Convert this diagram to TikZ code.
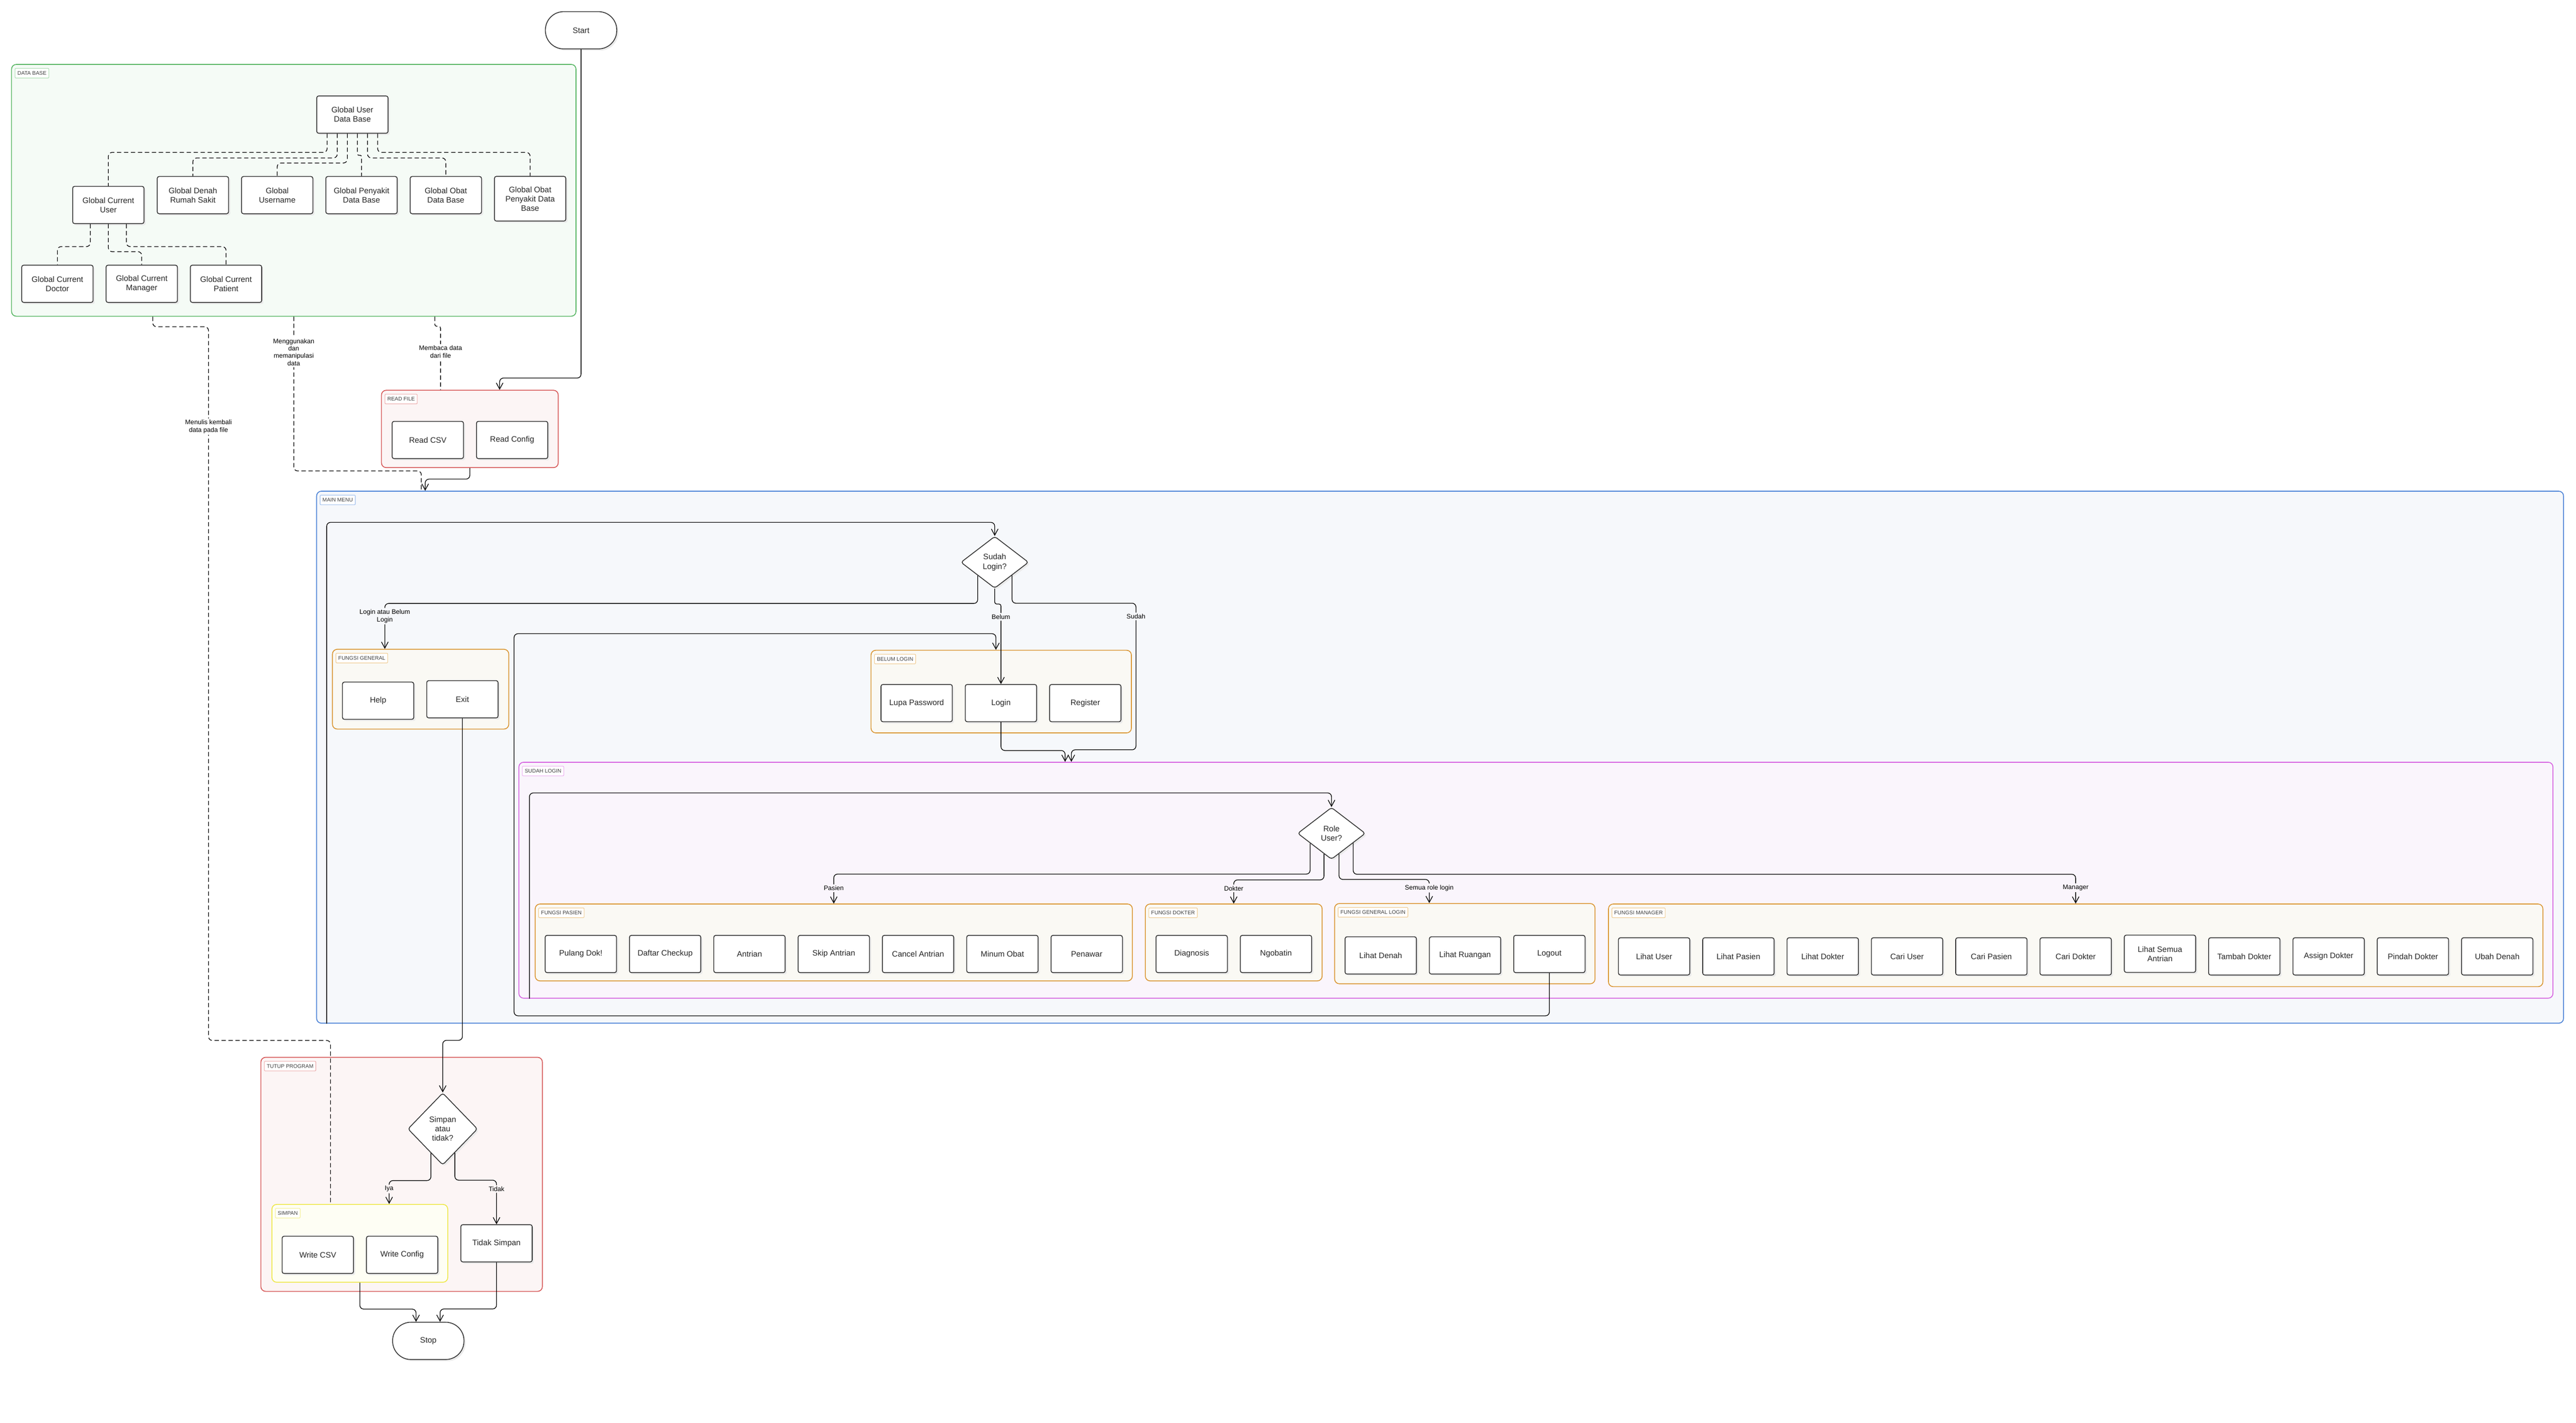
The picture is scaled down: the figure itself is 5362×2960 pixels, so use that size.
\documentclass[tikz,border=0pt]{standalone}
\usepackage{fontspec}
\setmainfont{Liberation Sans}
\usetikzlibrary{shapes.geometric, arrows.meta, shadows}

\definecolor{dbLine}{RGB}{88,182,100}
\definecolor{dbFill}{RGB}{245,251,246}
\definecolor{dbTag}{RGB}{170,220,176}
\definecolor{rfLine}{RGB}{214,88,88}
\definecolor{rfFill}{RGB}{252,245,245}
\definecolor{rfTag}{RGB}{236,170,170}
\definecolor{mmLine}{RGB}{72,128,214}
\definecolor{mmFill}{RGB}{246,248,251}
\definecolor{mmTag}{RGB}{165,195,238}
\definecolor{slLine}{RGB}{214,98,224}
\definecolor{slFill}{RGB}{250,245,252}
\definecolor{slTag}{RGB}{236,175,240}
\definecolor{fnLine}{RGB}{218,150,52}
\definecolor{fnFill}{RGB}{250,249,244}
\definecolor{fnTag}{RGB}{240,205,150}
\definecolor{smLine}{RGB}{238,232,70}
\definecolor{smFill}{RGB}{254,254,244}
\definecolor{smTag}{RGB}{246,242,160}

\begin{document}
\begin{tikzpicture}[x=0.1mm, y=-0.1mm, node distance=17.55mm,
  block/.style={draw=black!80, fill=white, text=black!85, line width=0.48pt, rounded corners=0.4mm, minimum width=14.85mm, minimum height=7.75mm, inner sep=0.4mm, align=center, font=\fontsize{4.7}{5.5}\selectfont, drop shadow={shadow xshift=0.35mm, shadow yshift=-0.35mm, fill=black!8, opacity=1}},
  terminal/.style={block, rounded corners=3.8mm},
  decision/.style={block, diamond, rounded corners=0.5mm, minimum width=14.1mm, minimum height=10.8mm, inner sep=0},
  cluster/.style={draw=#1Line, fill=#1Fill, line width=0.5pt, rounded corners=1mm, inner sep=0},
  tag/.style={draw=#1Tag, fill=white, line width=0.35pt, rounded corners=0.15mm, anchor=north west, inner xsep=0.5mm, inner ysep=0.6mm, text height=2.3pt, text depth=0pt, text=black!75, font=\fontsize{3.15}{3.6}\selectfont},
  flow/.style={-{Straight Barb[length=1.3mm, width=1.4mm]}, line width=0.4pt, rounded corners=0.8mm},
  link/.style={line width=0.4pt, dash pattern=on 0.9mm off 0.55mm, rounded corners=0.8mm},
  elabel/.style={fill=#1, inner sep=0.3mm, align=center, font=\fontsize{3.85}{4.4}\selectfont},
  elabel/.default=white]

  \fill[white] (0,0) rectangle (5362,2960);
  \useasboundingbox (0,0) rectangle (5362,2960);

  % Clusters
  \node[cluster=db, minimum width=117.5mm, minimum height=52.4mm] (db) at (611.5,396) {};
  \node[tag=db] at ([xshift=0.75mm, yshift=-0.85mm]db.north west) {DATA BASE};
  \node[cluster=rf, minimum width=36.8mm, minimum height=16.1mm] (rf) at (978,892.5) {};
  \node[tag=rf] at ([xshift=0.75mm, yshift=-0.85mm]rf.north west) {READ FILE};
  \node[cluster=mm, minimum width=467.7mm, minimum height=110.7mm] (mm) at (2997.5,1575.5) {};
  \node[tag=mm] at ([xshift=0.75mm, yshift=-0.85mm]mm.north west) {MAIN MENU};
  \node[cluster=fn, minimum width=36.7mm, minimum height=16.6mm] (fgen) at (875.5,1434) {};
  \node[tag=fn] at ([xshift=0.75mm, yshift=-0.85mm]fgen.north west) {FUNGSI GENERAL};
  \node[cluster=fn, minimum width=54.2mm, minimum height=17.2mm] (bl) at (2084,1439) {};
  \node[tag=fn] at ([xshift=0.75mm, yshift=-0.85mm]bl.north west) {BELUM LOGIN};
  \node[cluster=sl, minimum width=423.4mm, minimum height=49.1mm] (sl) at (3197,1831.5) {};
  \node[tag=sl] at ([xshift=0.75mm, yshift=-0.85mm]sl.north west) {SUDAH LOGIN};
  \node[cluster=fn, minimum width=124.3mm, minimum height=16mm] (fp) at (1735.5,1961) {};
  \node[tag=fn] at ([xshift=0.75mm, yshift=-0.85mm]fp.north west) {FUNGSI PASIEN};
  \node[cluster=fn, minimum width=36.8mm, minimum height=16mm] (fd) at (2568,1961) {};
  \node[tag=fn] at ([xshift=0.75mm, yshift=-0.85mm]fd.north west) {FUNGSI DOKTER};
  \node[cluster=fn, minimum width=54.2mm, minimum height=16.7mm] (fgl) at (3049,1963.5) {};
  \node[tag=fn] at ([xshift=0.75mm, yshift=-0.85mm]fgl.north west) {FUNGSI GENERAL LOGIN};
  \node[cluster=fn, minimum width=194.5mm, minimum height=17.2mm] (fm) at (4320.5,1967) {};
  \node[tag=fn] at ([xshift=0.75mm, yshift=-0.85mm]fm.north west) {FUNGSI MANAGER};
  \node[cluster=rf, minimum width=58.6mm, minimum height=48.7mm] (tp) at (836,2443.5) {};
  \node[tag=rf] at ([xshift=0.75mm, yshift=-0.85mm]tp.north west) {TUTUP PROGRAM};
  \node[cluster=sm, minimum width=36.6mm, minimum height=16.2mm] (simpan) at (749,2587) {};
  \node[tag=sm] at ([xshift=0.75mm, yshift=-0.85mm]simpan.north west) {SIMPAN};

  % Start
  \node[terminal] (start) at (1209.5,63) {Start};

  % Data base
  \node[block] (udb) at (733.5,238.5) {Global User\\Data Base};
  \node[block] (denah) at (401.5,406) {Global Denah\\Rumah Sakit};
  \node[block, right of=denah] (uname) {Global\\Username};
  \node[block, right of=uname] (penyakit) {Global Penyakit\\Data Base};
  \node[block, right of=penyakit] (obat) {Global Obat\\Data Base};
  \node[block, right of=obat, yshift=-0.75mm, minimum height=9.3mm] (obpen) {Global Obat\\Penyakit Data\\Base};
  \node[block] (gcu) at (225.5,426.5) {Global Current\\User};
  \node[block] (gcdoc) at (119.5,590.5) {Global Current\\Doctor};
  \node[block, right of=gcdoc] (gcman) {Global Current\\Manager};
  \node[block, right of=gcman] (gcpat) {Global Current\\Patient};

  % Read file
  \node[block] (rcsv) at (890.5,915.5) {Read CSV};
  \node[block, right of=rcsv] (rconfig) {Read Config};

  % Main menu
  \node[decision] (sudah) at (2070.5,1170) {Sudah\\Login?};
  \node[block] (help) at (787,1458) {Help};
  \node[block, right of=help, yshift=0.3mm] (exit) {Exit};
  \node[block] (lupa) at (1908,1463) {Lupa Password};
  \node[block, right of=lupa] (login) {Login};
  \node[block, right of=login] (register) {Register};

  % Sudah login
  \node[decision] (role) at (2771.5,1734) {Role\\User?};
  \node[block] (pulang) at (1209,1985) {Pulang Dok!};
  \node[block, right of=pulang] (daftar) {Daftar Checkup};
  \node[block, right of=daftar] (antrian) {Antrian};
  \node[block, right of=antrian] (skip) {Skip Antrian};
  \node[block, right of=skip] (cancel) {Cancel Antrian};
  \node[block, right of=cancel] (minum) {Minum Obat};
  \node[block, right of=minum] (penawar) {Penawar};
  \node[block] (diagnosis) at (2480.5,1985) {Diagnosis};
  \node[block, right of=diagnosis] (ngobatin) {Ngobatin};
  \node[block] (ldenah) at (2874,1988) {Lihat Denah};
  \node[block, right of=ldenah] (lruang) {Lihat Ruangan};
  \node[block, right of=lruang, yshift=0.3mm] (logout) {Logout};
  \node[block] (luser) at (3443,1990) {Lihat User};
  \node[block, right of=luser] (lpasien) {Lihat Pasien};
  \node[block, right of=lpasien] (ldokter) {Lihat Dokter};
  \node[block, right of=ldokter] (cuser) {Cari User};
  \node[block, right of=cuser] (cpasien) {Cari Pasien};
  \node[block, right of=cpasien] (cdokter) {Cari Dokter};
  \node[block, right of=cdokter, yshift=0.55mm] (lantrian) {Lihat Semua\\Antrian};
  \node[block, right of=lantrian, yshift=-0.55mm] (tambah) {Tambah Dokter};
  \node[block, right of=tambah] (assign) {Assign Dokter};
  \node[block, right of=assign] (pindah) {Pindah Dokter};
  \node[block, right of=pindah] (ubah) {Ubah Denah};

  % Tutup program
  \node[decision, minimum width=14.5mm, minimum height=15mm] (sp) at (921.5,2349) {Simpan\\atau\\tidak?};
  \node[block] (wcsv) at (661.5,2611) {Write CSV};
  \node[block, right of=wcsv] (wconfig) {Write Config};
  \node[block] (tidak) at (1033.5,2587) {Tidak Simpan};
  \node[terminal] (stop) at (891.5,2790) {Stop};

  % Data base links
  \draw[link] ([xshift=-5.25mm]udb.south) -- ++(0,39) -| (gcu.north);
  \draw[link] ([xshift=-3.15mm]udb.south) -- ++(0,50.6) -| (denah.north);
  \draw[link] ([xshift=-1.05mm]udb.south) -- ++(0,61) -| (uname.north);
  \draw[link, rounded corners=0.3mm] ([xshift=1.05mm]udb.south) -- ++(0,45) -| (penyakit.north);
  \draw[link] ([xshift=3.15mm]udb.south) -- ++(0,50.6) -| (obat.north);
  \draw[link] ([xshift=5.25mm]udb.south) -- ++(0,39) -| (obpen.north);
  \draw[link] ([xshift=-3.75mm]gcu.south) -- ++(0,47) -| (gcdoc.north);
  \draw[link] (gcu.south) -- ++(0,57.5) -| (gcman.north);
  \draw[link] ([xshift=3.75mm]gcu.south) -- ++(0,47) -| (gcpat.north);

  % Data base to the program
  \draw[link] ([xshift=-29.35mm]db.south) -- ++(0,21) -- ++(116,0) -- node[elabel, pos=0.14] {Menulis kembali\\data pada file} ++(0,1485) -| ([xshift=-6.1mm]simpan.north);
  \draw[link] (db.south) -- node[elabel, pos=0.23] {Menggunakan\\dan\\memanipulasi\\data} ++(0,321) -| ([xshift=-212.05mm]mm.north);
  \draw[link, rounded corners=0.4mm] ([xshift=29.35mm]db.south) -- ++(0,20) -| node[elabel, pos=0.7] {Membaca data\\dari file} ([xshift=-6.1mm]rf.north);

  % Start and read file
  \draw[flow] (start.south) -- ++(0,684) -| ([xshift=6.2mm]rf.north);
  \draw[flow] (rf.south) -- ++(0,23) -| ([xshift=-211.25mm]mm.north);

  % Main menu
  \draw[flow] ([xshift=-231.75mm]mm.south) -- ++(0,-1043) -| (sudah.north);
  \draw[flow] (sudah.-142.5) -- ++(0,58) -| node[elabel=mmFill, pos=0.64] {Login atau Belum\\Login} ([xshift=-7.45mm]fgen.north);
  \draw[flow, rounded corners=0.4mm] (sudah.south) -- ++(0,32) -| node[elabel=mmFill, pos=0.58] {Belum} (login.north);
  \draw[flow] (sudah.-37.5) -- ++(0,58) -- ++(258,0) -- node[elabel=mmFill, pos=0.09] {Sudah} ++(0,305) -| ([xshift=-96.7mm]sl.north);
  \draw[flow] (login.south) -- ++(0,59) -| ([xshift=-98mm]sl.north);
  \draw[flow] (logout.south) -- ++(0,89) -- ++(-2155,0) -- ++(0,-795) -| ([xshift=-1.1mm]bl.north);
  \draw[flow] (exit.south) -- ++(0,670) -| (sp.north);

  % Role
  \draw[flow] ([xshift=-209.5mm]sl.south) -- ++(0,-428) -| (role.north);
  \draw[flow] (role.-155.8) -- ++(0,64) -| node[elabel=slFill, pos=0.74] {Pasien} (fp.north);
  \draw[flow] (role.-110.3) -- ++(0,54) -| node[elabel=slFill, pos=0.68] {Dokter} (fd.north);
  \draw[flow] (role.-70.7) -- ++(0,53) -| node[elabel=slFill, pos=0.68] {Semua role login} ([xshift=-7.4mm]fgl.north);
  \draw[flow] (role.-24.2) -- ++(0,65) -| node[elabel=slFill, pos=0.73] {Manager} (fm.north);

  % Tutup program
  \draw[flow] (sp.-116.1) -- ++(0,57) -| node[elabel=rfFill, pos=0.68] {Iya} ([xshift=6.1mm]simpan.north);
  \draw[flow] (sp.-63.9) -- ++(0,57) -| node[elabel=rfFill, pos=0.6] {Tidak} (tidak.north);
  \draw[flow] (simpan.south) -- ++(0,55) -| ([xshift=-2.55mm]stop.north);
  \draw[flow] (tidak.south) -- ++(0,97) -| ([xshift=2.45mm]stop.north);

\end{tikzpicture}
\end{document}
